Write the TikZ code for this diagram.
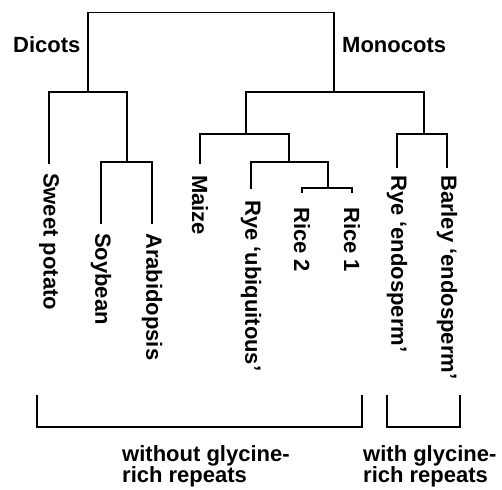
\documentclass[tikz,border=0pt]{standalone}
\usepackage{fontspec}
\setmainfont{Liberation Sans}
\begin{document}
\begin{tikzpicture}[x=1pt,y=-1pt,
  tree/.style={line width=1.8pt, line cap=rect},
  brk/.style={line width=1.8pt},
  lab/.style={rotate=-90, anchor=west, inner sep=0pt, font=\fontsize{22}{22}\selectfont\bfseries},
  grp/.style={inner sep=0pt, font=\fontsize{22}{21}\selectfont\bfseries},
  captxt/.style={inner sep=0pt, anchor=north west, align=left, font=\fontsize{22}{21}\selectfont\bfseries}]
\useasboundingbox (0,0) rectangle (502,489);
% internal nodes
\coordinate (root) at (211,12.5);
\coordinate (D) at (88,92);
\coordinate (M) at (334,92);
\coordinate (SA) at (127,162);
\coordinate (G1) at (246,134);
\coordinate (G2) at (424,134);
\coordinate (RU) at (289,162);
\coordinate (RI) at (328,188);
% leaf ends
\coordinate (sp) at (49,163);
\coordinate (soy) at (101,223);
\coordinate (arab) at (152,223);
\coordinate (maize) at (200,163);
\coordinate (ryeu) at (251,188);
\coordinate (rice2) at (302,192);
\coordinate (rice1) at (352,192);
\coordinate (ryee) at (397,167);
\coordinate (barley) at (447,167);
% tree
\draw[tree] (D) |- (root) -| (M);
\draw[tree] (sp) |- (D) -| (SA);
\draw[tree] (soy) |- (SA) -| (arab);
\draw[tree] (G1) |- (M) -| (G2);
\draw[tree] (maize) |- (G1) -| (RU);
\draw[tree] (ryeu) |- (RU) -| (RI);
\draw[tree] (rice2) |- (RI) -| (rice1);
\draw[tree] (ryee) |- (G2) -| (barley);
% group labels
\node[grp, anchor=base west] (dic) at (13,53) {Dicots};
\node[grp, anchor=base west] (mon) at (342,53) {Monocots};
% leaf labels
\node[lab] (tsp) at ([yshift=-10pt]sp) {Sweet potato};
\node[lab] (tsoy) at ([yshift=-10pt]soy) {Soybean};
\node[lab] (tarab) at ([yshift=-10pt]arab) {Arabidopsis};
\node[lab] (tmaize) at ([yshift=-12pt]maize) {Maize};
\node[lab] (tryeu) at ([yshift=-12pt]ryeu) {Rye `ubiquitous'};
\node[lab] (trice2) at ([yshift=-15pt]rice2) {Rice 2};
\node[lab] (trice1) at ([yshift=-15pt]rice1) {Rice 1};
\node[lab] (tryee) at ([yshift=-8pt]ryee) {Rye `endosperm'};
\node[lab] (tbarley) at ([yshift=-8pt]barley) {Barley `endosperm'};
% brackets
\coordinate (b1a) at (37,395);
\coordinate (b1b) at (362,395);
\coordinate (b2a) at (387,395);
\coordinate (b2b) at (460,395);
\draw[brk] (b1a) -- ++(0,32) coordinate (b1c) -| (b1b);
\draw[brk] (b2a) -- ++(0,32) coordinate (b2c) -| (b2b);
\node[captxt] (without) at (122,445) {without glycine-\\rich repeats};
\node[captxt] (with) at (363,445) {with glycine-\\rich repeats};
\end{tikzpicture}
\end{document}
